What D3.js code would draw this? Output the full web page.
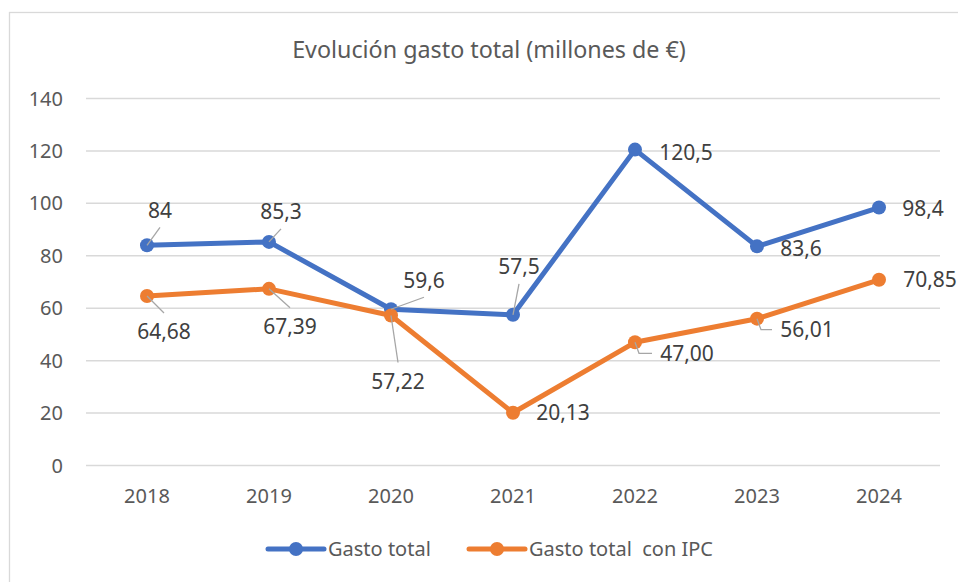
<!DOCTYPE html>
<html>
<head>
<meta charset="utf-8">
<script src="https://cdn.jsdelivr.net/npm/d3@7"></script>
<style>
    html, body { margin: 0; padding: 0; background: #fff; }
    svg { display: block; font-family: "Noto Sans", sans-serif; }
    .tick-label { fill: #595959; font-size: 20px; }
    .data-label { fill: #404040; font-size: 21px; }
    .leader { stroke: #A6A6A6; stroke-width: 1.3; fill: none; }
</style>
</head>
<body>
<div id="chart"></div>
<script>
// Data
const years = ['2018', '2019', '2020', '2021', '2022', '2023', '2024'];
const gastoTotal = [84, 85.3, 59.6, 57.5, 120.5, 83.6, 98.4];
const gastoIpc = [64.68, 67.39, 57.22, 20.13, 47.00, 56.01, 70.85];
const gastoLabels = ['84', '85,3', '59,6', '57,5', '120,5', '83,6', '98,4'];
const ipcLabels = ['64,68', '67,39', '57,22', '20,13', '47,00', '56,01', '70,85'];
const yTicks = [0, 20, 40, 60, 80, 100, 120, 140];

// Label placement (dx, dy from the point, in px) and leader line shape
const gastoLabelPos = [[13, -35], [12, -30], [33, -29], [6, -48], [51, 3], [44, 2], [44, 1]];
const ipcLabelPos = [[17, 36], [21, 38], [7, 66], [50, 0], [52, 11], [50, 11], [51, 0]];
const gastoLeader = ['diag', 'diag', 'diag', 'diag', null, null, null];
const ipcLeader = ['diag', 'diag', 'diag', null, 'elbow', 'elbow', null];

const W = 958, H = 582;
const blue = '#4472C4', orange = '#ED7D31';

const svg = d3.select('#chart').append('svg')
    .attr('width', W).attr('height', H);

// Chart frame (cut off at right and bottom like the source)
svg.append('rect')
    .attr('x', 9.5).attr('y', 12.5)
    .attr('width', W + 10).attr('height', H + 10)
    .attr('fill', '#fff')
    .attr('stroke', '#D9D9D9').attr('stroke-width', 1.3);

svg.append('text')
    .attr('x', 489).attr('y', 58)
    .attr('text-anchor', 'middle')
    .attr('fill', '#595959')
    .attr('font-size', '23.3px')
    .text('Evolución gasto total (millones de €)');

const x = d3.scalePoint().domain(years).range([86, 940]).padding(0.5);
const y = d3.scaleLinear().domain([0, 140]).range([465.5, 98.5]);

// Gridlines
svg.append('g').selectAll('line')
    .data(yTicks)
    .join('line')
    .attr('x1', 86).attr('x2', 940)
    .attr('y1', d => y(d)).attr('y2', d => y(d))
    .attr('stroke', '#D9D9D9').attr('stroke-width', 1.5);

// Y axis labels
svg.append('g').selectAll('text')
    .data(yTicks)
    .join('text')
    .attr('class', 'tick-label')
    .attr('x', 63).attr('y', d => y(d))
    .attr('dy', '0.35em')
    .attr('text-anchor', 'end')
    .text(d => d);

// X axis labels
svg.append('g').selectAll('text')
    .data(years)
    .join('text')
    .attr('class', 'tick-label')
    .attr('x', d => x(d)).attr('y', 496)
    .attr('dy', '0.35em')
    .attr('text-anchor', 'middle')
    .text(d => d);

function drawSeries(values, color) {
    const pts = values.map((v, i) => [x(years[i]), y(v)]);
    svg.append('path')
        .datum(pts)
        .attr('d', d3.line())
        .attr('fill', 'none')
        .attr('stroke', color)
        .attr('stroke-width', 5)
        .attr('stroke-linejoin', 'round')
        .attr('stroke-linecap', 'round');
    svg.append('g').selectAll('circle')
        .data(pts)
        .join('circle')
        .attr('cx', d => d[0]).attr('cy', d => d[1])
        .attr('r', 7)
        .attr('fill', color);
    return pts;
}

const gPts = drawSeries(gastoTotal, blue);
const oPts = drawSeries(gastoIpc, orange);

function drawLabels(pts, labels, pos, leaders) {
    pts.forEach((p, i) => {
        const lx = p[0] + pos[i][0], ly = p[1] + pos[i][1];
        const kind = leaders[i];
        if (kind === 'diag') {
            // straight line from the point to the near edge of the label
            const ey = ly + (p[1] > ly ? 17 : -19);
            svg.append('line').attr('class', 'leader')
                .attr('x1', p[0]).attr('y1', p[1])
                .attr('x2', lx).attr('y2', ey);
        } else if (kind === 'elbow') {
            svg.append('path').attr('class', 'leader')
                .attr('d', `M${p[0]},${p[1]} L${p[0] + 4},${ly} L${lx - 35},${ly}`);
        }
        svg.append('text')
            .attr('class', 'data-label')
            .attr('x', lx).attr('y', ly)
            .attr('dy', '0.35em')
            .attr('text-anchor', 'middle')
            .text(labels[i]);
    });
}

drawLabels(gPts, gastoLabels, gastoLabelPos, gastoLeader);
drawLabels(oPts, ipcLabels, ipcLabelPos, ipcLeader);

// Legend
const legend = [
    { name: 'Gasto total', color: blue, x: 268 },
    { name: 'Gasto total\u00a0\u00a0con IPC', color: orange, x: 469 }
];
const lg = svg.append('g').selectAll('g')
    .data(legend)
    .join('g')
    .attr('transform', d => `translate(${d.x},549)`);
lg.append('line')
    .attr('x1', 0).attr('x2', 56)
    .attr('stroke', d => d.color).attr('stroke-width', 5)
    .attr('stroke-linecap', 'round');
lg.append('circle')
    .attr('cx', 28).attr('r', 7)
    .attr('fill', d => d.color);
lg.append('text')
    .attr('x', 60).attr('dy', '0.35em')
    .attr('fill', '#595959')
    .attr('font-size', '20px')
    .text(d => d.name);
</script>
</body>
</html>
